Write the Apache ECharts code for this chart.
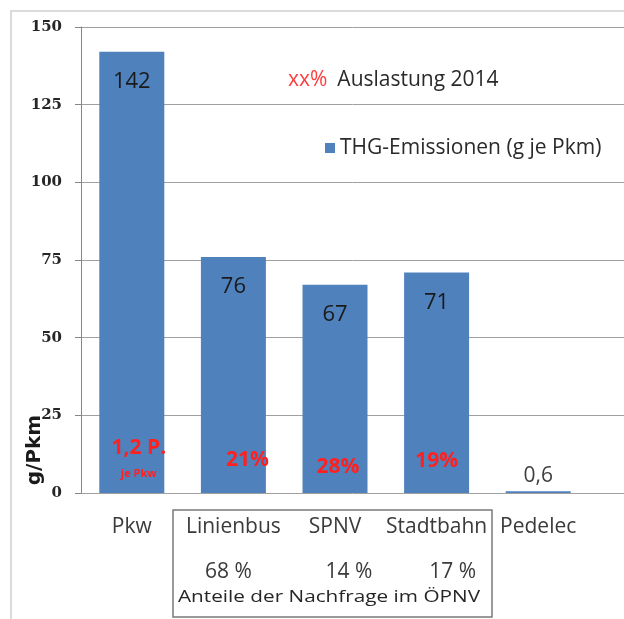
<!DOCTYPE html>
<html><head><meta charset="utf-8">
<script src="https://cdn.jsdelivr.net/npm/echarts@6/dist/echarts.min.js"></script>
<style>html,body{margin:0;padding:0;background:#fff}#c{width:624px;height:619px}</style>
</head><body><div id="c"></div>
<script>
const categories = ['Pkw', 'Linienbus', 'SPNV', 'Stadtbahn', 'Pedelec'];
const emissions = [142, 76, 67, 71, 0.6];
const occupancy = ['1,2 P.', '21%', '28%', '19%', ''];
const occupancySub = ['je Pkw', '', '', '', ''];
const demandShare = ['', '68 %', '14 %', '17 %', ''];
const yMin = 0, yMax = 150, yInterval = 25;
const seriesName = 'THG-Emissionen (g je Pkm)';
const noteTitle = 'Auslastung 2014';
const noteKey = 'xx%';
const boxCaption = 'Anteile der Nachfrage im ÖPNV';
const axisName = 'g/Pkm';

const FONT = '"Open Sans", sans-serif';
const RED = '#ff2020';

// per-item label tweaks (style only)
const occOffsets = [[7, 0], [14, 0], [3, 0], [0, 0], [0, 0]];
const occDist = [5, 21, 14, 20, 0];
const sharePad = [[0,0,0,0], [0,10,0,0], [0,0,0,28], [0,0,0,32], [0,0,0,0]];

const chart = echarts.init(document.getElementById('c'), null, {renderer: 'canvas'});

const rich = {
  c: {fontFamily: FONT, fontSize: 21, lineHeight: 22, color: '#3a3a3a'}
};
demandShare.forEach((s, i) => {
  rich['s' + i] = {fontFamily: FONT, fontSize: 21, lineHeight: 68, color: '#3a3a3a', padding: sharePad[i]};
});

const option = {
  animation: false,
  backgroundColor: '#fff',
  title: {
    left: 283, top: 62,
    text: '{r|' + noteKey + '}  {t|' + noteTitle + '}',
    textStyle: {
      fontWeight: 'normal',
      rich: {
        r: {fontFamily: FONT, fontWeight: 'normal', fontSize: 21, color: '#ff3b3b', lineHeight: 26},
        t: {fontFamily: FONT, fontWeight: 'normal', fontSize: 21, color: '#2a2a2a', lineHeight: 26}
      }
    }
  },
  legend: {
    data: [seriesName],
    left: 320, top: 132,
    icon: 'rect', itemWidth: 10, itemHeight: 10, itemGap: 5,
    textStyle: {fontFamily: FONT, fontSize: 21, color: '#2a2a2a', lineHeight: 22}
  },
  grid: [
    {left: 81, top: 27, width: 508, height: 466},
    {left: 81, top: 27, right: 0, height: 466}
  ],
  xAxis: [
    {
      type: 'category', data: categories, gridIndex: 0,
      axisLine: {show: false}, axisTick: {show: false},
      axisLabel: {
        interval: 0, margin: 23,
        formatter: (v, i) => demandShare[i] ? '{c|' + v + '}\n{s' + i + '|' + demandShare[i] + '}' : '{c|' + v + '}',
        rich: rich
      }
    },
    {type: 'value', gridIndex: 1, show: false}
  ],
  yAxis: [
    {
      type: 'value', gridIndex: 0, min: yMin, max: yMax, interval: yInterval,
      axisLine: {show: true, lineStyle: {color: '#868686', width: 1}},
      axisTick: {show: true, length: 6, lineStyle: {color: '#868686'}},
      axisLabel: {margin: 19, fontFamily: '"DejaVu Serif", serif', fontWeight: 'bold', fontSize: 15, color: '#262626'},
      splitLine: {show: false}
    },
    {
      type: 'value', gridIndex: 1, min: yMin, max: yMax, interval: yInterval,
      axisLine: {show: false}, axisTick: {show: false}, axisLabel: {show: false},
      splitLine: {show: true, lineStyle: {color: '#a0a0a0', width: 1}}
    }
  ],
  series: [
    {
      name: seriesName, type: 'bar', xAxisIndex: 0, yAxisIndex: 0,
      barWidth: 65, barGap: '-100%',
      itemStyle: {color: '#4f81bd'},
      label: {
        show: true, position: 'insideTop', distance: 18,
        fontFamily: FONT, fontSize: 22, lineHeight: 24, color: '#1a1a1a',
        formatter: p => String(p.value).replace('.', ',')
      },
      data: emissions.map((v, i) => v < 5 ? {value: v, label: {position: 'top', distance: 3, color: '#404040', fontSize: 21}} : v),
      z: 2
    },
    {
      name: 'Auslastung', type: 'bar', xAxisIndex: 0, yAxisIndex: 0,
      barWidth: 65, barGap: '-100%', silent: true,
      itemStyle: {color: 'rgba(0,0,0,0)'},
      label: {
        show: true, position: 'insideBottom',
        formatter: p => {
          const i = p.dataIndex;
          if (!occupancy[i]) return '';
          return occupancySub[i] ? '{a|' + occupancy[i] + '}\n{b|' + occupancySub[i] + '}' : '{a|' + occupancy[i] + '}';
        },
        rich: {
          a: {fontFamily: FONT, fontWeight: 'bold', fontSize: 21, lineHeight: 24, color: RED},
          b: {fontFamily: FONT, fontWeight: 'bold', fontSize: 11, lineHeight: 28, color: RED}
        }
      },
      data: emissions.map((v, i) => ({value: v, label: {distance: occDist[i], offset: occOffsets[i]}})),
      z: 3
    }
  ],
  graphic: [
    {type: 'rect', silent: true, z: -1, shape: {x: 11, y: 11, width: 800, height: 800},
     style: {fill: 'none', stroke: '#cfcfcf', lineWidth: 1.5}},
    {type: 'rect', silent: true, shape: {x: 173, y: 510, width: 319, height: 107},
     style: {fill: 'none', stroke: '#7a7a7a', lineWidth: 1.5}},
    {type: 'text', silent: true, x: 329, y: 597, scaleX: 1.22,
     style: {text: boxCaption, x: 0, y: 0, align: 'center', verticalAlign: 'middle',
             font: '17px "Open Sans", sans-serif', fill: '#262626'}},
    {type: 'text', silent: true, x: 35, y: 450, rotation: Math.PI / 2,
     style: {text: axisName, x: 0, y: 0, align: 'center', verticalAlign: 'middle',
             font: 'bold 20px "DejaVu Sans", sans-serif', fill: '#1a1a1a'}}
  ]
};
chart.setOption(option);
</script>
</body></html>
